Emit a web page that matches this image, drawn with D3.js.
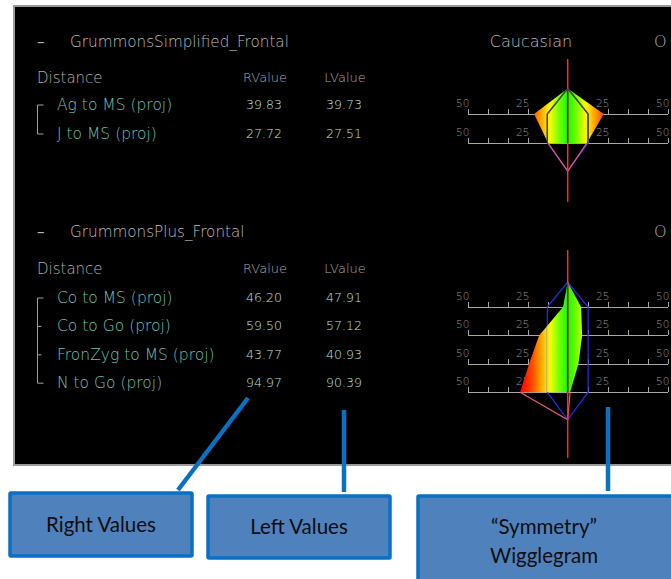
<!DOCTYPE html>
<html>
<head>
<meta charset="utf-8">
<script src="https://cdn.jsdelivr.net/npm/d3@7/dist/d3.min.js"></script>
<style>
  html, body { margin: 0; padding: 0; background: #ffffff; }
  svg { display: block; }
</style>
</head>
<body>
<svg id="chart" width="671" height="579"></svg>
<script>
// ---------------- DATA ----------------
const sectionTitles = ["GrummonsSimplified_Frontal", "GrummonsPlus_Frontal"];
const groupTitles = ["Caucasian", "O"];
const columnHeaders = ["Distance", "RValue", "LValue"];

const distances1 = ["Ag to MS (proj)", "J to MS (proj)"];
const rValues1 = [39.83, 27.72];
const lValues1 = [39.73, 27.51];
const wiggleLeft1 = [-16.8, -9.8];
const wiggleRight1 = [18.0, 9.6];
const normHalf1 = [10.2, 10.2];

const distances2 = ["Co to MS (proj)", "Co to Go (proj)", "FronZyg to MS (proj)", "N to Go (proj)"];
const rValues2 = [46.20, 59.50, 43.77, 94.97];
const lValues2 = [47.91, 57.12, 40.93, 90.39];
const wiggleLeft2 = [-2.3, -14.3, -19.3, -23.8];
const wiggleRight2 = [6.7, 7.2, 5.4, 1.2];
const normHalf2 = [10.2, 10.2, 10.2, 10.2];

const axisTicks = [-50, -40, -30, -20, -10, 0, 10, 20, 30, 40, 50];
const axisLabelValues = [-50, -20, 20, 50];
const axisLabelText = ["50", "25", "25", "50"];

const calloutLabels = [["Right Values"], ["Left Values"], ["\u201CSymmetry\u201D", "Wigglegram"]];

// ---------------- DRAW ----------------
const svg = d3.select("#chart");
const W = 671, H = 579;
const panelFont = "'DejaVu Sans', sans-serif";

svg.append("rect").attr("x", 0).attr("y", 0).attr("width", W).attr("height", H).attr("fill", "#ffffff");

// panel
svg.append("rect")
  .attr("x", 14).attr("y", 6).attr("width", W - 14 + 10).attr("height", 459)
  .attr("fill", "#000").attr("stroke", "#9a9a9a").attr("stroke-width", 2);

const defs = svg.append("defs");
defs.append("clipPath").attr("id", "panelClip")
  .append("rect").attr("x", 15).attr("y", 7).attr("width", W - 15).attr("height", 457);

const panel = svg.append("g").attr("clip-path", "url(#panelClip)");

const sections = [
  { title: sectionTitles[0], group: groupTitles[0], other: groupTitles[1], showGroup: true,
    distances: distances1, r: rValues1, l: lValues1, wl: wiggleLeft1, wr: wiggleRight1, norm: normHalf1,
    titleY: 47, headerY: 82, row0: 105, step: 29, lineTop: 59, lineBottom: 202, normInner: "#4c4c2c" },
  { title: sectionTitles[1], group: null, other: groupTitles[1], showGroup: false,
    distances: distances2, r: rValues2, l: lValues2, wl: wiggleLeft2, wr: wiggleRight2, norm: normHalf2,
    titleY: 237, headerY: 273, row0: 298, step: 28.4, lineTop: 250, lineBottom: 458, normInner: "#c8c8c8" }
];

const cx = 567.7;
const xs = d3.scaleLinear().domain([-50, 50]).range([cx - 100, cx + 100]);

sections.forEach((s, si) => {
  const g = panel.append("g");
  const n = s.distances.length;
  const rowY = d3.scaleLinear().domain([0, 1]).range([s.row0, s.row0 + s.step]);
  const axisY = i => rowY(i) + 9;

  // title row
  g.append("text").attr("x", 37).attr("y", s.titleY).text("\u2013")
    .attr("font-family", panelFont).attr("font-size", 15).attr("fill", "#b8b8b8");
  g.append("text").attr("x", 70).attr("y", s.titleY).text(s.title)
    .attr("font-family", panelFont).attr("font-size", 15.2).attr("font-weight", 200).attr("fill", "#bdbdbd");
  if (s.showGroup) {
    g.append("text").attr("x", 531).attr("y", s.titleY).attr("text-anchor", "middle").text(s.group)
      .attr("font-family", panelFont).attr("font-size", 16).attr("font-weight", 200).attr("fill", "#bdbdbd");
  }
  g.append("text").attr("x", 654).attr("y", s.titleY).text(s.other)
    .attr("font-family", panelFont).attr("font-size", 16).attr("font-weight", 200).attr("fill", "#bdbdbd");

  // header
  g.append("text").attr("x", 37).attr("y", s.headerY + 1).text(columnHeaders[0])
    .attr("font-family", panelFont).attr("font-size", 15).attr("font-weight", 200).attr("fill", "#b0b0b0");
  g.append("text").attr("x", 265).attr("y", s.headerY).attr("text-anchor", "middle").text(columnHeaders[1])
    .attr("font-family", panelFont).attr("font-size", 13).attr("font-weight", 200).attr("fill", "#a8a8a8");
  g.append("text").attr("x", 345).attr("y", s.headerY).attr("text-anchor", "middle").text(columnHeaders[2])
    .attr("font-family", panelFont).attr("font-size", 13).attr("font-weight", 200).attr("fill", "#a8a8a8");

  // rows
  s.distances.forEach((d, i) => {
    const y = rowY(i);
    g.append("text").attr("x", 57).attr("y", y + 5).text(d)
      .attr("font-family", panelFont).attr("font-size", 15.5).attr("font-weight", 200).attr("fill", "#6cc4b4");
    g.append("text").attr("x", 264).attr("y", y + 4).attr("text-anchor", "middle").text(s.r[i].toFixed(2))
      .attr("font-family", panelFont).attr("font-size", 12.5).attr("font-weight", 200).attr("fill", "#bfe4dc");
    g.append("text").attr("x", 344).attr("y", y + 4).attr("text-anchor", "middle").text(s.l[i].toFixed(2))
      .attr("font-family", panelFont).attr("font-size", 12.5).attr("font-weight", 200).attr("fill", "#bfe4dc");
  });

  // bracket
  const bx = 37.5;
  g.append("line").attr("x1", bx).attr("x2", bx).attr("y1", rowY(0)).attr("y2", rowY(n - 1))
    .attr("stroke", "#a0a0a0").attr("stroke-width", 1);
  s.distances.forEach((d, i) => {
    const y = rowY(i);
    const len = (i === 0 || i === n - 1) ? 6 : 4;
    g.append("line").attr("x1", bx).attr("x2", bx + len).attr("y1", y).attr("y2", y)
      .attr("stroke", "#a0a0a0").attr("stroke-width", 1);
  });

  // wigglegram axes
  s.distances.forEach((d, i) => {
    const ax = g.append("g").attr("transform", `translate(0,${axisY(i)})`)
      .call(d3.axisTop(xs).tickValues(axisTicks).tickSize(5).tickSizeOuter(0).tickFormat(""));
    ax.selectAll("path,line").attr("stroke", "#a8a8a8").attr("stroke-width", 1).attr("shape-rendering", "crispEdges");
    axisLabelValues.forEach((v, k) => {
      g.append("text").attr("x", xs(v) - 5).attr("y", axisY(i) - 7).attr("text-anchor", "middle")
        .text(axisLabelText[k])
        .attr("font-family", panelFont).attr("font-size", 10.5).attr("font-weight", 200)
        .attr("fill", "#9a9a9a");
    });
  });

  // shape geometry
  const apexY = axisY(-0.88);
  const bottomY = axisY(n - 1 + 0.97);
  const fillPts = [[xs(0), apexY]];
  s.wr.forEach((v, i) => fillPts.push([xs(v), axisY(i)]));
  for (let i = n - 1; i >= 0; i--) fillPts.push([xs(s.wl[i]), axisY(i)]);

  const normPts = [[xs(0), apexY]];
  s.norm.forEach((v, i) => normPts.push([xs(v), axisY(i)]));
  normPts.push([xs(0), bottomY]);
  for (let i = n - 1; i >= 0; i--) normPts.push([xs(-s.norm[i]), axisY(i)]);

  const line = d3.line().curve(d3.curveLinear);

  // gradient
  const gid = "wgrad" + si;
  const grad = defs.append("linearGradient").attr("id", gid)
    .attr("gradientUnits", "userSpaceOnUse")
    .attr("x1", xs(-25)).attr("x2", xs(25)).attr("y1", 0).attr("y2", 0);
  const stops = [
    [0, "#ff0000"], [0.08, "#ff1c00"], [0.15, "#ff5000"], [0.22, "#ff9800"], [0.29, "#ffe000"],
    [0.33, "#eeff00"], [0.40, "#86ff00"], [0.5, "#10ff00"],
    [0.60, "#86ff00"], [0.67, "#eeff00"], [0.71, "#ffe000"], [0.78, "#ff9800"], [0.85, "#ff5000"],
    [0.92, "#ff1c00"], [1, "#ff0000"]
  ];
  stops.forEach(([o, c]) => grad.append("stop").attr("offset", o).attr("stop-color", c));

  g.append("path").attr("d", line(fillPts) + "Z").attr("fill", `url(#${gid})`);

  // norm polygon (blue)
  g.append("path").attr("d", line(normPts) + "Z").attr("fill", "none")
    .attr("stroke", "#2b2be6").attr("stroke-width", 1.2);

  // patient outline (red) lower part
  const patientLow = [[xs(s.wl[n - 1]), axisY(n - 1)], [xs(0), bottomY], [xs(s.wr[n - 1]), axisY(n - 1)]];
  g.append("path").attr("d", line(patientLow)).attr("fill", "none")
    .attr("stroke", "#f05a78").attr("stroke-width", 1.2);

  // center line
  g.append("line").attr("x1", xs(0)).attr("x2", xs(0)).attr("y1", s.lineTop).attr("y2", s.lineBottom)
    .attr("stroke", "#ff2a2a").attr("stroke-width", 1.5);

  // overlays within fill
  const cid = "fillClip" + si;
  defs.append("clipPath").attr("id", cid).append("path").attr("d", line(fillPts) + "Z");
  const inner = g.append("g").attr("clip-path", `url(#${cid})`);
  inner.append("path").attr("d", line(normPts) + "Z").attr("fill", "none")
    .attr("stroke", s.normInner).attr("stroke-width", 1.4);
  inner.append("line").attr("x1", xs(0)).attr("x2", xs(0)).attr("y1", s.lineTop).attr("y2", s.lineBottom)
    .attr("stroke", "#2c3a2c").attr("stroke-width", 1.6).attr("opacity", 0.75);
});

// ---------------- CALLOUTS ----------------
const blue = "#0a70c2";
const calloutFont = "Lato, 'Open Sans', sans-serif";
const connectors = [
  [[248, 398], [178, 490]],
  [[344, 410], [344, 492]],
  [[608, 407], [608, 491]]
];
connectors.forEach(c => {
  svg.append("path").attr("d", d3.line()(c)).attr("stroke", blue).attr("stroke-width", 4.5).attr("fill", "none");
});

const boxes = [
  { x: 10, y: 493, w: 182, h: 63 },
  { x: 208, y: 496, w: 182, h: 62 },
  { x: 418, y: 496, w: 270, h: 100 }
];
boxes.forEach((b, i) => {
  svg.append("rect").attr("x", b.x).attr("y", b.y).attr("width", b.w).attr("height", b.h)
    .attr("fill", "#4f81bd").attr("stroke", blue).attr("stroke-width", 3.5).attr("rx", 1);
  const lines = calloutLabels[i];
  const cxb = i === 2 ? 544 : b.x + b.w / 2;
  const yStart = i === 2 ? 534 : b.y + b.h / 2 + 7;
  lines.forEach((t, k) => {
    svg.append("text").attr("x", cxb).attr("y", yStart + k * 29).attr("text-anchor", "middle")
      .text(t).attr("font-family", calloutFont).attr("font-size", 20.5).attr("fill", "#0d0d0d");
  });
});
</script>
</body>
</html>
